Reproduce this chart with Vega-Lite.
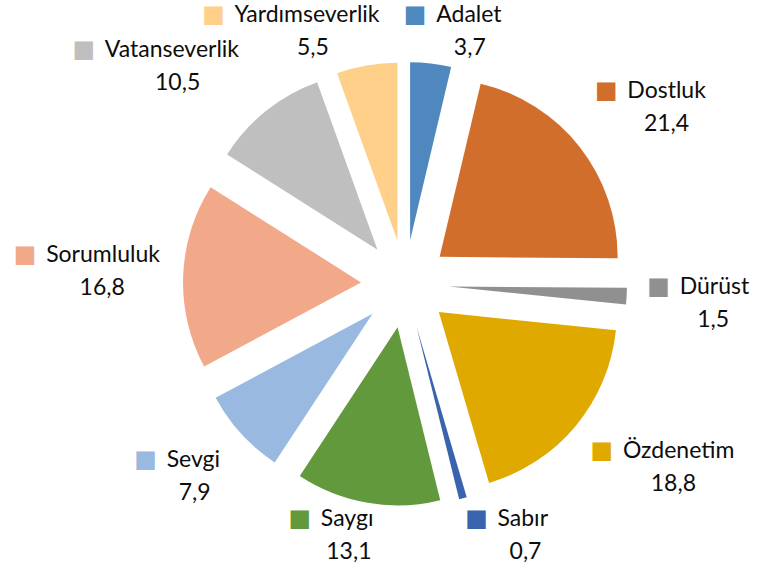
{
  "$schema": "https://vega.github.io/schema/vega-lite/v6.json",
  "width": 710,
  "height": 568,
  "autosize": {"type": "none"},
  "padding": {"left": 50, "top": 0, "right": 0, "bottom": 4},
  "background": "white",
  "config": {
    "view": {"stroke": null},
    "locale": {"number": {"decimal": ",", "thousands": ".", "grouping": [3], "currency": ["", ""]}}
  },
  "data": {
    "values": [
      {"k": "Adalet", "v": 3.7, "i": 1},
      {"k": "Dostluk", "v": 21.4, "i": 2},
      {"k": "Dürüst", "v": 1.5, "i": 3},
      {"k": "Özdenetim", "v": 18.8, "i": 4},
      {"k": "Sabır", "v": 0.7, "i": 5},
      {"k": "Saygı", "v": 13.1, "i": 6},
      {"k": "Sevgi", "v": 7.9, "i": 7},
      {"k": "Sorumluluk", "v": 16.8, "i": 8},
      {"k": "Vatanseverlik", "v": 10.5, "i": 9},
      {"k": "Yardımseverlik", "v": 5.5, "i": 10}
    ]
  },
  "encoding": {
    "theta": {"field": "v", "type": "quantitative", "stack": true},
    "order": {"field": "i", "type": "quantitative"}
  },
  "layer": [
    {
      "mark": {
        "type": "arc",
        "radius": 178,
        "xOffset": {"expr": "44*sin(scale('theta',0.5*datum.v_start+0.5*datum.v_end))"},
        "yOffset": {"expr": "-44*cos(scale('theta',0.5*datum.v_start+0.5*datum.v_end))"}
      },
      "encoding": {
        "color": {
          "field": "k", "type": "nominal", "legend": null,
          "scale": {
            "domain": ["Adalet", "Dostluk", "Dürüst", "Özdenetim", "Sabır", "Saygı", "Sevgi", "Sorumluluk", "Vatanseverlik", "Yardımseverlik"],
            "range": ["#4E88BF", "#D26E2B", "#909090", "#E0A900", "#3A63AD", "#63993D", "#99B9E0", "#F1A98A", "#BFBFBF", "#FFD08A"]
          }
        }
      }
    },
    {
      "mark": {
        "type": "text",
        "text": "■",
        "font": "DejaVu Sans",
        "fontSize": 24,
        "radius": 247,
        "align": "center",
        "baseline": "middle",
        "dx": {"expr": "(length(datum.k)*11.2+28)/2*clamp(4*sin(scale('theta',0.5*datum.v_start+0.5*datum.v_end)),-1,1)-(length(datum.k)*11.2+28)/2+7"},
        "dy": {"expr": "clamp(height/2-247*cos(scale('theta',0.5*datum.v_start+0.5*datum.v_end))+25*clamp(-4*cos(scale('theta',0.5*datum.v_start+0.5*datum.v_end)),-1,1),31,height-33)-(height/2-247*cos(scale('theta',0.5*datum.v_start+0.5*datum.v_end)))-16"}
      },
      "encoding": {
        "color": {"field": "k", "type": "nominal", "legend": null}
      }
    },
    {
      "mark": {
        "type": "text",
        "font": "Lato",
        "fontSize": 23,
        "fill": "#0d0d0d",
        "radius": 247,
        "align": "left",
        "baseline": "middle",
        "dx": {"expr": "(length(datum.k)*11.2+28)/2*clamp(4*sin(scale('theta',0.5*datum.v_start+0.5*datum.v_end)),-1,1)-(length(datum.k)*11.2+28)/2+28"},
        "dy": {"expr": "clamp(height/2-247*cos(scale('theta',0.5*datum.v_start+0.5*datum.v_end))+25*clamp(-4*cos(scale('theta',0.5*datum.v_start+0.5*datum.v_end)),-1,1),31,height-33)-(height/2-247*cos(scale('theta',0.5*datum.v_start+0.5*datum.v_end)))-16"}
      },
      "encoding": {
        "detail": {"field": "k", "type": "nominal"},
        "text": {"field": "k", "type": "nominal"}
      }
    },
    {
      "mark": {
        "type": "text",
        "font": "Lato",
        "fontSize": 23,
        "fill": "#0d0d0d",
        "radius": 247,
        "align": "center",
        "baseline": "middle",
        "dx": {"expr": "(length(datum.k)*11.2+28)/2*clamp(4*sin(scale('theta',0.5*datum.v_start+0.5*datum.v_end)),-1,1)+14"},
        "dy": {"expr": "clamp(height/2-247*cos(scale('theta',0.5*datum.v_start+0.5*datum.v_end))+25*clamp(-4*cos(scale('theta',0.5*datum.v_start+0.5*datum.v_end)),-1,1),31,height-33)-(height/2-247*cos(scale('theta',0.5*datum.v_start+0.5*datum.v_end)))+17"}
      },
      "encoding": {
        "detail": {"field": "k", "type": "nominal"},
        "text": {"field": "v", "type": "quantitative", "format": ".1f"}
      }
    }
  ]
}
